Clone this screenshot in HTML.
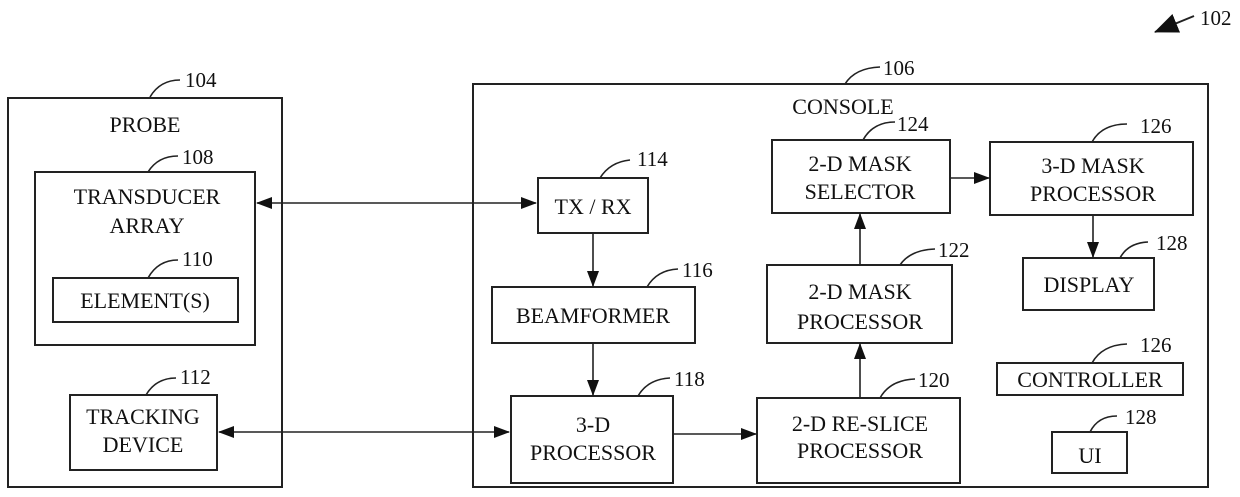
<!DOCTYPE html>
<html><head><meta charset="utf-8"><style>
body{margin:0;background:#fff}
svg{display:block}
text{font-family:"Liberation Serif",serif;font-size:22px;fill:#111;text-anchor:middle}
.n{text-anchor:start;font-size:21px}
rect{fill:none;stroke:#222;stroke-width:2}
.l{fill:none;stroke:#222;stroke-width:1.6}
</style></head><body>
<svg width="1240" height="497" viewBox="0 0 1240 497">
<defs><marker id="a" markerWidth="16" markerHeight="12" refX="15" refY="6" orient="auto" markerUnits="userSpaceOnUse"><path d="M0,0 L16,6 L0,12 z" fill="#111"/></marker>
<marker id="b" markerWidth="16" markerHeight="12" refX="1" refY="6" orient="auto" markerUnits="userSpaceOnUse"><path d="M16,0 L0,6 L16,12 z" fill="#111"/></marker>
<marker id="c" markerWidth="24" markerHeight="20" refX="23" refY="10" orient="auto" markerUnits="userSpaceOnUse"><path d="M0,0 L24,10 L0,20 z" fill="#111"/></marker></defs>

<!-- 102 -->
<text class="n" x="1200" y="25">102</text>
<line class="l" x1="1194" y1="16" x2="1155" y2="32" marker-end="url(#c)" style="stroke-width:2"/>

<!-- probe -->
<rect x="8" y="98" width="274" height="389"/>
<path class="l" d="M150,97 Q160,80 180,80"/><text class="n" x="185" y="87">104</text>
<text x="145" y="132">PROBE</text>
<rect x="35" y="172" width="220" height="173"/>
<path class="l" d="M148,172 Q158,156 178,156"/><text class="n" x="182" y="164">108</text>
<text x="147" y="204">TRANSDUCER</text><text x="147" y="233">ARRAY</text>
<rect x="53" y="278" width="185" height="44"/>
<path class="l" d="M148,278 Q158,260 178,260"/><text class="n" x="182" y="266">110</text>
<text x="145" y="308">ELEMENT(S)</text>
<rect x="70" y="395" width="147" height="75"/>
<path class="l" d="M146,395 Q156,378 176,378"/><text class="n" x="180" y="384">112</text>
<text x="143" y="424">TRACKING</text><text x="143" y="452">DEVICE</text>

<!-- console -->
<rect x="473" y="84" width="735" height="403"/>
<path class="l" d="M845,84 Q855,68 880,67"/><text class="n" x="883" y="75">106</text>
<text x="843" y="114">CONSOLE</text>

<rect x="538" y="178" width="110" height="55"/>
<path class="l" d="M600,178 Q610,162 630,160"/><text class="n" x="637" y="166">114</text>
<text x="593" y="214">TX / RX</text>

<rect x="492" y="287" width="203" height="56"/>
<path class="l" d="M647,287 Q657,270 678,269"/><text class="n" x="682" y="277">116</text>
<text x="593" y="323">BEAMFORMER</text>

<rect x="511" y="396" width="162" height="87"/>
<path class="l" d="M638,396 Q648,379 670,378"/><text class="n" x="674" y="386">118</text>
<text x="593" y="432">3-D</text><text x="593" y="460">PROCESSOR</text>

<rect x="757" y="398" width="203" height="85"/>
<path class="l" d="M880,398 Q890,380 915,379"/><text class="n" x="918" y="387">120</text>
<text x="860" y="431">2-D RE-SLICE</text><text x="860" y="458">PROCESSOR</text>

<rect x="767" y="265" width="185" height="78"/>
<path class="l" d="M900,265 Q910,250 935,249"/><text class="n" x="938" y="257">122</text>
<text x="860" y="299">2-D MASK</text><text x="860" y="329">PROCESSOR</text>

<rect x="772" y="140" width="178" height="73"/>
<path class="l" d="M863,140 Q873,122 895,122"/><text class="n" x="897" y="131">124</text>
<text x="860" y="171">2-D MASK</text><text x="860" y="199">SELECTOR</text>

<rect x="990" y="142" width="203" height="73"/>
<path class="l" d="M1092,142 Q1102,124 1127,124"/><text class="n" x="1140" y="133">126</text>
<text x="1093" y="173">3-D MASK</text><text x="1093" y="201">PROCESSOR</text>

<rect x="1023" y="258" width="131" height="52"/>
<path class="l" d="M1120,258 Q1128,243 1148,242"/><text class="n" x="1156" y="250">128</text>
<text x="1089" y="292">DISPLAY</text>

<rect x="997" y="363" width="186" height="32"/>
<path class="l" d="M1092,363 Q1102,345 1127,344"/><text class="n" x="1140" y="352">126</text>
<text x="1090" y="387">CONTROLLER</text>

<rect x="1052" y="432" width="75" height="41"/>
<path class="l" d="M1090,432 Q1098,416 1117,416"/><text class="n" x="1125" y="424">128</text>
<text x="1090" y="463">UI</text>

<!-- connectors -->
<line class="l" x1="257" y1="203" x2="536" y2="203" marker-start="url(#b)" marker-end="url(#a)"/>
<line class="l" x1="219" y1="432" x2="509" y2="432" marker-start="url(#b)" marker-end="url(#a)"/>
<line class="l" x1="593" y1="233" x2="593" y2="286" marker-end="url(#a)"/>
<line class="l" x1="593" y1="343" x2="593" y2="395" marker-end="url(#a)"/>
<line class="l" x1="673" y1="434" x2="756" y2="434" marker-end="url(#a)"/>
<line class="l" x1="860" y1="398" x2="860" y2="344" marker-end="url(#a)"/>
<line class="l" x1="860" y1="265" x2="860" y2="214" marker-end="url(#a)"/>
<line class="l" x1="950" y1="178" x2="989" y2="178" marker-end="url(#a)"/>
<line class="l" x1="1093" y1="215" x2="1093" y2="257" marker-end="url(#a)"/>
</svg>
</body></html>
